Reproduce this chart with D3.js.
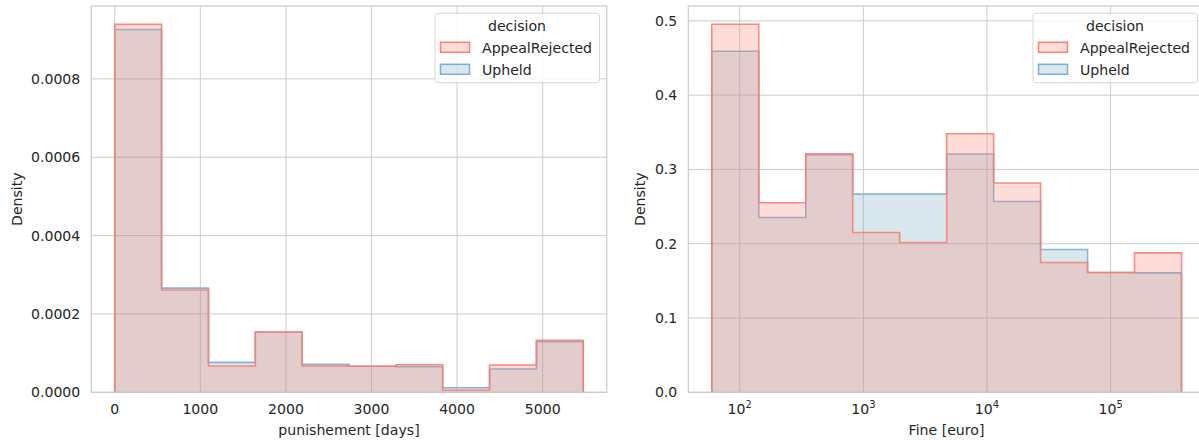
<!DOCTYPE html>
<html>
<head>
<meta charset="utf-8">
<script src="https://cdn.jsdelivr.net/npm/d3@7"></script>
<style>
  body { margin: 0; background: #fff; }
  svg { font-family: "DejaVu Sans", sans-serif; display: block; }
</style>
</head>
<body>
<div id="chart"></div>
<script>
// bin edges and densities
let punishEdges = [0, 547, 1095, 1642, 2190, 2737, 3284, 3832, 4379, 4927, 5474];
let punishRejected = [0.000939, 0.000261, 0.0000671, 0.000154, 0.0000671, 0.0000665, 0.0000705, 0.0000051, 0.0000697, 0.000133];
let punishUpheld   = [0.000926, 0.000266, 0.0000765, 0.000154, 0.0000714, 0.0000665, 0.0000653, 0.0000118, 0.0000594, 0.000129];

let fineEdges = [59.4, 142.6, 342, 820, 1968, 4721, 11324, 27164, 65163, 156315, 374973];
let fineRejected = [0.4954, 0.2551, 0.3212, 0.2151, 0.2016, 0.348, 0.2817, 0.1747, 0.1612, 0.1877];
let fineUpheld   = [0.459, 0.2353, 0.3200, 0.2668, 0.2668, 0.3207, 0.2569, 0.1922, 0.1612, 0.1608];

let punishTicks = [0, 1000, 2000, 3000, 4000, 5000];
let punishYTicks = [0, 0.0002, 0.0004, 0.0006, 0.0008];
let fineTicks = [1e2, 1e3, 1e4, 1e5];
let fineYTicks = [0, 0.1, 0.2, 0.3, 0.4, 0.5];

let seriesNames = ['AppealRejected', 'Upheld'];
let style = {
    AppealRejected: {fill: 'rgba(250,128,114,0.27)', stroke: '#fa8072'},
    Upheld: {fill: 'rgba(107,163,187,0.25)', stroke: '#7aaed6'}
};

const W = 1199, H = 440;
const gridColor = '#cccccc', textColor = '#262626', fs = 14.1;

let svg = d3.select('#chart').append('svg')
    .attr('width', W).attr('height', H);

let drawPanel = function(opt) {
    let g = svg.append('g');
    let [x0, x1] = opt.xRange, [yb, yt] = [392.3, 6];
    let x = opt.xScale.range([x0, x1]);
    let y = d3.scaleLinear().domain(opt.yDomain).range([yb, yt]);

    // grid
    g.selectAll('.gx').data(opt.xTicks).enter().append('line')
        .attr('x1', d => x(d)).attr('x2', d => x(d)).attr('y1', yt).attr('y2', yb)
        .attr('stroke', gridColor).attr('stroke-width', 1);
    g.selectAll('.gy').data(opt.yTicks).enter().append('line')
        .attr('x1', x0).attr('x2', x1).attr('y1', d => y(d)).attr('y2', d => y(d))
        .attr('stroke', gridColor).attr('stroke-width', 1);

    // step histograms, Upheld under AppealRejected
    let line = d3.line().x(d => x(d[0])).y(d => y(d[1]));
    [['Upheld', opt.upheld], ['AppealRejected', opt.rejected]].forEach(function(s) {
        let vals = s[1], e = opt.edges;
        let pts = [[e[0], 0]];
        vals.forEach((v, i) => { pts.push([e[i], v]); pts.push([e[i + 1], v]); });
        pts.push([e[e.length - 1], 0]);
        g.append('path').attr('d', line(pts) + 'Z')
            .attr('fill', style[s[0]].fill).attr('stroke', 'none');
        g.append('path').attr('d', line(pts))
            .attr('fill', 'none').attr('stroke', style[s[0]].stroke)
            .attr('stroke-width', 1.6).attr('stroke-opacity', 0.9);
    });

    // spines
    g.append('rect').attr('x', x0).attr('y', yt).attr('width', x1 - x0).attr('height', yb - yt)
        .attr('fill', 'none').attr('stroke', gridColor).attr('stroke-width', 1.25);

    // x tick labels
    let xt = g.selectAll('.xt').data(opt.xTicks).enter().append('text')
        .attr('x', d => x(d)).attr('y', 414)
        .attr('text-anchor', 'middle').attr('fill', textColor).style('font-size', fs + 'px');
    if (opt.log) {
        xt.append('tspan').text('10');
        xt.append('tspan').attr('dy', -6).style('font-size', '9.9px')
            .text(d => Math.round(Math.log10(d)));
    } else {
        xt.text(d => d);
    }
    // y tick labels
    g.selectAll('.yt').data(opt.yTicks).enter().append('text')
        .attr('x', x0 - 11).attr('y', d => y(d) + 5)
        .attr('text-anchor', 'end').attr('fill', textColor).style('font-size', fs + 'px')
        .text(opt.yFormat);

    // axis labels
    g.append('text').attr('x', opt.xLabelX).attr('y', 435)
        .attr('text-anchor', 'middle').attr('fill', textColor).style('font-size', fs + 'px')
        .text(opt.xLabel);
    g.append('text').attr('transform', 'translate(' + opt.yLabelX + ',' + ((yt + yb) / 2) + ') rotate(-90)')
        .attr('text-anchor', 'middle').attr('fill', textColor).style('font-size', fs + 'px')
        .text('Density');

    // legend
    let lx = opt.legendX, ly = 13.3;
    let lg = g.append('g').attr('transform', 'translate(' + lx + ',' + ly + ')');
    lg.append('rect').attr('width', 164.5).attr('height', 69.4).attr('rx', 3)
        .attr('fill', 'rgba(255,255,255,0.8)').attr('stroke', '#d6d6d6');
    lg.append('text').attr('x', 82).attr('y', 18).attr('text-anchor', 'middle')
        .attr('fill', textColor).style('font-size', fs + 'px').text('decision');
    seriesNames.forEach(function(name, i) {
        let yy = 29 + i * 22;
        lg.append('rect').attr('x', 5.5).attr('y', yy).attr('width', 29).attr('height', 10)
            .attr('fill', style[name].fill).attr('stroke', style[name].stroke).attr('stroke-width', 1.5);
        lg.append('text').attr('x', 47).attr('y', yy + 10.5)
            .attr('fill', textColor).style('font-size', fs + 'px').text(name);
    });
};

drawPanel({
    id: 'a', xScale: d3.scaleLinear().domain([-274, 5748]), xRange: [91.3, 606.7],
    yDomain: [0, 0.000986], edges: punishEdges, rejected: punishRejected, upheld: punishUpheld,
    xTicks: punishTicks, yTicks: punishYTicks, yFormat: d3.format('.4f'),
    xLabel: 'punishement [days]', xLabelX: 349, yLabelX: 22, legendX: 435
});

drawPanel({
    id: 'b', xScale: d3.scaleLog().domain([Math.pow(10, 1.584), Math.pow(10, 5.764)]), xRange: [688.3, 1205],
    yDomain: [0, 0.52], edges: fineEdges, rejected: fineRejected, upheld: fineUpheld,
    xTicks: fineTicks, yTicks: fineYTicks, yFormat: d3.format('.1f'), log: true,
    xLabel: 'Fine [euro]', xLabelX: 946.5, yLabelX: 645, legendX: 1033
});
</script>
</body>
</html>
